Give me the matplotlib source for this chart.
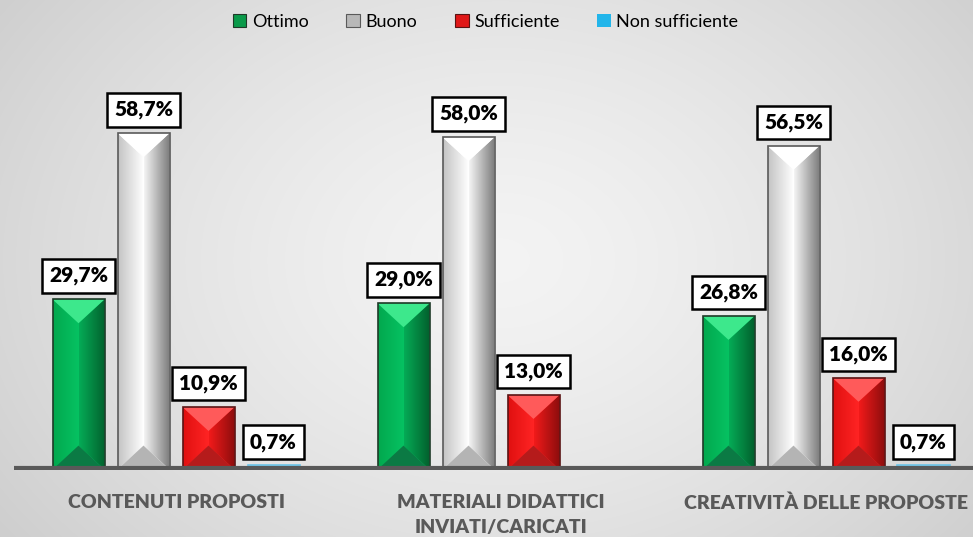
import numpy as np
import matplotlib
matplotlib.use("Agg")
import matplotlib.pyplot as plt
from matplotlib.patches import Polygon, Patch
from matplotlib.colors import to_rgb

plt.rcParams['font.family'] = ['Lato', 'DejaVu Sans']

categories = ["CONTENUTI PROPOSTI", "MATERIALI DIDATTICI\nINVIATI/CARICATI", "CREATIVITÀ DELLE PROPOSTE"]
series_names = ["Ottimo", "Buono", "Sufficiente", "Non sufficiente"]
ottimo = [29.7, 29.0, 26.8]
buono = [58.7, 58.0, 56.5]
sufficiente = [10.9, 13.0, 16.0]
non_sufficiente = [0.7, np.nan, 0.7]
series_values = [ottimo, buono, sufficiente, non_sufficiente]

# bevel palettes: (top, bottom, left_edge, left_center, right_center, right_edge, edge, legend)
palettes = [
    ("#3de88c", "#0b7a44", "#02a84e", "#06c262", "#05ab56", "#02602d", "#1f3a28", "#0a9a4a"),
    ("#ffffff", "#b4b4b4", "#c4c4c4", "#ffffff", "#f4f4f4", "#7c7c7c", "#5a5a5a", "#b8b8b8"),
    ("#ff5a5a", "#b51b1b", "#e01010", "#ff2424", "#f21a1a", "#8c0d0d", "#5a1414", "#e01818"),
    ("#8fdcf8", "#4ab0d8", "#58c0e8", "#8fdcf8", "#7ed4f4", "#3aa0cc", "#6cc4e8", "#22b5ea"),
]

fig = plt.figure(figsize=(9.73, 5.37), dpi=100)

# radial gradient background
bg = fig.add_axes([0, 0, 1, 1], zorder=-10)
yy, xx = np.mgrid[0:537, 0:973]
r = np.sqrt(((xx - 500) / 560.0) ** 2 + ((yy - 260) / 420.0) ** 2)
r = np.clip(r, 0, 1.15)
c0, c1 = 0.955, 0.80
val = c0 - (c0 - c1) * (r / 1.15) ** 1.4
bg.imshow(np.dstack([val, val, val]), extent=[0, 1, 0, 1], aspect='auto', origin='upper')
bg.axis('off')

ax = fig.add_axes([13.5 / 973, (537 - 469.5) / 537, 975 / 973, 70 * 5.73 / 537])
ax.patch.set_alpha(0)
ax.set_xlim(-0.5, 2.5)
ax.set_ylim(0, 70)

x = np.arange(len(categories))
bw = 0.16
offsets = [-0.3, -0.1, 0.1, 0.3]

p0 = ax.transData.transform((0, 0))
p1 = ax.transData.transform((1, 1))
px_x = p1[0] - p0[0]
px_y = p1[1] - p0[1]


def grad_face(poly, xa, xb, y0, y1, ca, cb):
    g = np.linspace(0, 1, 64)
    a = np.array(to_rgb(ca))
    b = np.array(to_rgb(cb))
    img = (a[None, :] * (1 - g[:, None]) + b[None, :] * g[:, None])[None, :, :]
    im = ax.imshow(img, extent=[xa, xb, y0, y1], aspect='auto', origin='lower', zorder=3,
                   interpolation='bilinear')
    pp = Polygon(poly, closed=True, fc='none', ec='none', transform=ax.transData)
    ax.add_patch(pp)
    im.set_clip_path(pp)


for si, (vals, pal) in enumerate(zip(series_values, palettes)):
    top, bot, le, lc, rc, re, edge, leg = pal
    for ci, v in enumerate(vals):
        if np.isnan(v):
            continue
        xc = x[ci] + offsets[si]
        x0, x1 = xc - bw / 2, xc + bw / 2
        h = v
        ax.bar(xc, h, width=bw, color=lc, edgecolor='none', zorder=2)
        d = min(0.92 * (bw / 2) * px_x / px_y, h / 2)
        grad_face([(x0, h), (xc, h - d), (xc, d), (x0, 0)], x0, xc, 0, h, le, lc)
        grad_face([(x1, h), (xc, h - d), (xc, d), (x1, 0)], xc, x1, 0, h, rc, re)
        ax.add_patch(Polygon([(x0, h), (x1, h), (xc, h - d)], closed=True, fc=top, ec='none', zorder=4))
        ax.add_patch(Polygon([(x0, 0), (x1, 0), (xc, d)], closed=True, fc=bot, ec='none', zorder=4))
        ax.add_patch(Polygon([(x0, 0), (x0, h), (x1, h), (x1, 0)], closed=True, fc='none',
                             ec=edge, lw=1.2, zorder=5))
        lab = f"{v:.1f}".replace('.', ',') + '%'
        ax.annotate(lab, xy=(xc, h), xytext=(0, 10), textcoords='offset points',
                    ha='center', va='bottom', fontsize=15, fontweight='heavy', color='black',
                    bbox=dict(boxstyle='square,pad=0.35', fc='white', ec='black', lw=1.8),
                    zorder=8)

ax.axhline(0.25, color='#595959', lw=3, zorder=7)

for s in ax.spines.values():
    s.set_visible(False)
ax.set_yticks([])
ax.set_xticks(x)
ax.set_xticklabels(categories, fontsize=14, fontweight='heavy', color='#595959')
ax.tick_params(axis='x', length=0, pad=18)
for t in ax.get_xticklabels():
    t.set_linespacing(1.5)

handles = [Patch(facecolor=p[7], edgecolor=p[6], lw=0.8) for p in palettes]
handles[3] = Patch(facecolor=palettes[3][7], edgecolor='none')
fig.legend(handles, series_names, loc='upper center', bbox_to_anchor=(0.499, 1.005), ncol=4,
           frameon=False, fontsize=13, handlelength=0.75, handleheight=0.75,
           handletextpad=0.3, columnspacing=2.1)

fig.savefig('out.png', dpi=100)
